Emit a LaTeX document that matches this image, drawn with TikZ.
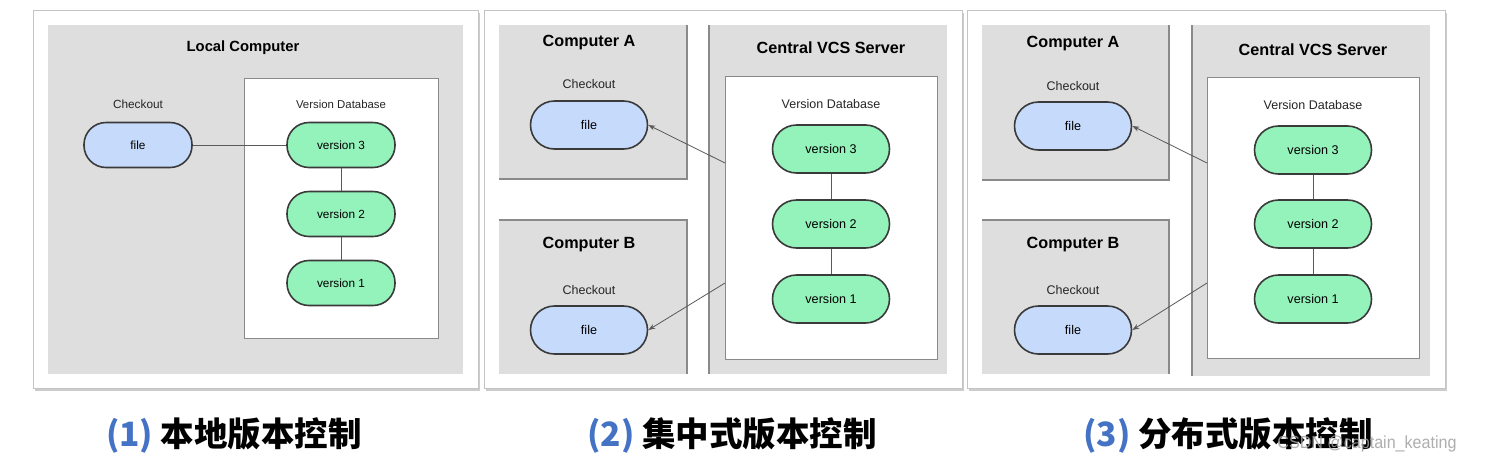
\documentclass[tikz,border=0pt]{standalone}
\usepackage{fontspec}
\setmainfont{Liberation Sans}
\newfontfamily\cjk{Noto Sans CJK SC}
\usetikzlibrary{arrows.meta,shadows}
\definecolor{panelgrey}{HTML}{DEDEDE}
\definecolor{framegrey}{HTML}{C4C4C4}
\definecolor{edgegrey}{HTML}{8A8A8A}
\definecolor{fileblue}{HTML}{C6DAFC}
\definecolor{vergreen}{HTML}{94F2BB}
\definecolor{pillline}{HTML}{3A3A3A}
\definecolor{capblue}{HTML}{4472C4}
\definecolor{wmgrey}{HTML}{A0A0A0}
\tikzset{
  panelframe/.style={draw=framegrey,line width=0.8pt,fill=white,anchor=north west,inner sep=0pt,outer sep=0pt,
    drop shadow={opacity=0.4,shadow xshift=1.5pt,shadow yshift=-3pt}},
  greybox/.style={fill=panelgrey,anchor=north west,inner sep=0pt,outer sep=0pt},
  dbbox/.style={draw=edgegrey,line width=0.8pt,fill=white,anchor=north west,inner sep=0pt,outer sep=0pt},
  boxedge/.style={draw=edgegrey,line width=1.2pt},
  pill/.style={draw=pillline,line width=1.6pt,rounded corners=22pt,minimum height=45pt,inner sep=0pt,font=\fontsize{11.8}{13}\selectfont},
  filepill/.style={pill,fill=fileblue},
  verpill/.style={pill,fill=vergreen},
  bigpill/.style={rounded corners=24pt,minimum height=48pt,minimum width=117pt,font=\fontsize{12.6}{14}\selectfont},
  smalltext/.style={font=\fontsize{11.8}{13}\selectfont,text=black!85},
  bigsmall/.style={font=\fontsize{12.5}{14}\selectfont},
  titletext/.style={font=\fontsize{16.2}{18}\selectfont\bfseries},
  conn/.style={draw=black!65,line width=0.8pt},
  arr/.style={conn,-{Stealth[length=7pt,width=5pt]}},
  captext/.style={font=\cjk\fontsize{33.5}{38}\selectfont\bfseries},
}
\begin{document}
\begin{tikzpicture}[x=1pt,y=-1pt]
\useasboundingbox[fill=white] (0,0) rectangle (1487,464);

%% ---------- Panel 1 ----------
\node[panelframe,minimum width=445pt,minimum height=378pt] (f1) at (33,10) {};
\node[greybox,minimum width=415pt,minimum height=349pt] (g1) at (48,25) {};
\node[dbbox,minimum width=194pt,minimum height=260pt] (db1) at (244,78) {};
\node[titletext,font=\fontsize{14.8}{17}\selectfont\bfseries] (t1) at (243,48) {Local Computer};
\node[smalltext] (co1) at (138,104) {Checkout};
\node[smalltext,font=\fontsize{11.4}{13}\selectfont] (vd1) at (341,104) {Version Database};
\node[filepill,minimum width=108pt] (file1) at (138,145) {file};
\node[verpill,minimum width=108pt] (v31) at (341,145) {version 3};
\node[verpill,minimum width=108pt] (v21) at (341,214) {version 2};
\node[verpill,minimum width=108pt] (v11) at (341,283) {version 1};
\draw[conn] (file1.east) -- (v31.west);
\draw[conn] (v31.south) -- (v21.north);
\draw[conn] (v21.south) -- (v11.north);

%% ---------- Panel 2 ----------
\node[panelframe,minimum width=478pt,minimum height=378pt] (f2) at (484,10) {};
\node[greybox,minimum width=188pt,minimum height=154pt] (ca2) at (499,25) {};
\node[greybox,minimum width=188pt,minimum height=154pt] (cb2) at (499,220) {};
\node[greybox,minimum width=238pt,minimum height=349pt] (sv2) at (709,25) {};
\draw[boxedge] (ca2.north east) -- (ca2.south east) -- (ca2.south west);
\draw[boxedge] (cb2.north west) -- (cb2.north east) -- (cb2.south east);
\draw[boxedge] (sv2.north west) -- (sv2.south west);
\node[dbbox,minimum width=212pt,minimum height=283pt] (db2) at (725,76) {};
\node[titletext] (ta2) at (589,43) {Computer A};
\node[titletext] (tb2) at (589,245) {Computer B};
\node[titletext] (ts2) at (831,48) {Central VCS Server};
\node[smalltext,bigsmall] (coa2) at (589,84) {Checkout};
\node[smalltext,bigsmall] (cob2) at (589,290) {Checkout};
\node[smalltext,bigsmall] (vd2) at (831,104) {Version Database};
\node[filepill,bigpill] (fa2) at (589,125) {file};
\node[filepill,bigpill] (fb2) at (589,330) {file};
\node[verpill,bigpill] (v32) at (831,149) {version 3};
\node[verpill,bigpill] (v22) at (831,224) {version 2};
\node[verpill,bigpill] (v12) at (831,299) {version 1};
\draw[conn] (v32.south) -- (v22.north);
\draw[conn] (v22.south) -- (v12.north);
\coordinate (sa2) at (725,163);
\coordinate (sb2) at (725,283);
\draw[arr] (sa2) -- (fa2.east);
\draw[arr] (sb2) -- (fb2.east);

%% ---------- Panel 3 ----------
\node[panelframe,minimum width=478pt,minimum height=378pt] (f3) at (967,10) {};
\node[greybox,minimum width=187pt,minimum height=155pt] (ca3) at (982,25) {};
\node[greybox,minimum width=187pt,minimum height=154pt] (cb3) at (982,220) {};
\node[greybox,minimum width=238pt,minimum height=351pt] (sv3) at (1192,25) {};
\draw[boxedge] (ca3.north east) -- (ca3.south east) -- (ca3.south west);
\draw[boxedge] (cb3.north west) -- (cb3.north east) -- (cb3.south east);
\draw[boxedge] (sv3.north west) -- (sv3.south west);
\node[dbbox,minimum width=212pt,minimum height=281pt] (db3) at (1207,77) {};
\node[titletext] (ta3) at (1073,44) {Computer A};
\node[titletext] (tb3) at (1073,245) {Computer B};
\node[titletext] (ts3) at (1313,50) {Central VCS Server};
\node[smalltext,bigsmall] (coa3) at (1073,86) {Checkout};
\node[smalltext,bigsmall] (cob3) at (1073,290) {Checkout};
\node[smalltext,bigsmall] (vd3) at (1313,105) {Version Database};
\node[filepill,bigpill] (fa3) at (1073,126) {file};
\node[filepill,bigpill] (fb3) at (1073,330) {file};
\node[verpill,bigpill] (v33) at (1313,150) {version 3};
\node[verpill,bigpill] (v23) at (1313,224) {version 2};
\node[verpill,bigpill] (v13) at (1313,299) {version 1};
\draw[conn] (v33.south) -- (v23.north);
\draw[conn] (v23.south) -- (v13.north);
\coordinate (sa3) at (1207,163);
\coordinate (sb3) at (1207,283);
\draw[arr] (sa3) -- (fa3.east);
\draw[arr] (sb3) -- (fb3.east);

%% ---------- Captions ----------
\node[captext] (cap1) at (234,436) {\textcolor{capblue}{(1)} 本地版本控制};
\node[captext] (cap2) at (732,436) {\textcolor{capblue}{(2)} 集中式版本控制};
\node[captext] (cap3) at (1228,436) {\textcolor{capblue}{(3)} 分布式版本控制};
\node[font=\fontsize{17.5}{19}\selectfont,text=wmgrey,opacity=0.85,xscale=0.92] (wm) at (1367,444) {CSDN @captain\_keating};
\end{tikzpicture}
\end{document}
